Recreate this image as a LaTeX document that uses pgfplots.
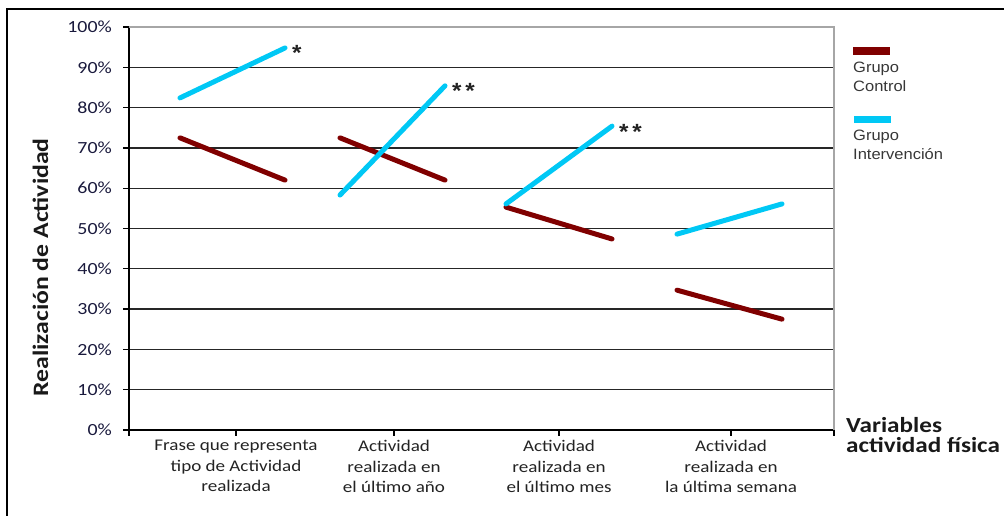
\documentclass[border=0pt]{standalone}
\usepackage{fontspec}
\setmainfont{Carlito}[FakeStretch=1.17]
\newfontfamily\arialf{Liberation Sans}[FakeStretch=1.1]
\usepackage{pgfplots}
\pgfplotsset{compat=1.18}
\definecolor{ctrl}{RGB}{128,0,0}
\definecolor{interv}{RGB}{0,200,245}
\definecolor{ticknavy}{RGB}{25,25,60}
\definecolor{labgray}{RGB}{35,35,35}
\definecolor{leggray}{RGB}{55,55,55}
\begin{document}
\begin{tikzpicture}[x=1pt,y=1pt]
\path[use as bounding box] (0,0) rectangle (1004,516);
\draw[black, line width=1.2pt] (7,-5) -- (7,507) -- (1010,507);
\begin{axis}[
  at={(129pt,86pt)}, anchor=south west,
  scale only axis, width=705pt, height=403pt,
  xmin=0, xmax=705, ymin=0, ymax=100,
  axis x line*=bottom, axis y line*=left,
  x axis line style={line width=2.2pt, black},
  y axis line style={line width=1.4pt, black},
  tick align=outside, major tick length=6pt,
  tick style={black, line width=1.3pt},
  xtick={0,107,265,430,602,705},
  xticklabels={{},{Frase que representa\\tipo de Actividad\\realizada},{Actividad\\realizada en\\el último año},{Actividad\\realizada en\\el último mes},{Actividad\\realizada en\\la última semana},{}},
  xticklabel style={align=center, font=\fontsize{16.3}{20.5}\selectfont, text=labgray, inner sep=0pt, yshift=-4pt},
  ytick={0,10,20,30,40,50,60,70,80,90,100},
  yticklabels={0\%,10\%,20\%,30\%,40\%,50\%,60\%,70\%,80\%,90\%,100\%},
  yticklabel style={font=\fontsize{17}{20}\selectfont, text=ticknavy, inner sep=0pt, xshift=-11pt},
  minor ytick={10,20,30,40,50,60,70,80,90}, yminorgrids, minor tick length=0pt,
  minor grid style={black!85, line width=1.3pt},
  clip=false,
]
% Grupo Control
\addplot[ctrl, line width=5pt, line cap=round, forget plot] coordinates {(51,72.5) (156,62.0)};
\addplot[ctrl, line width=5pt, line cap=round, forget plot] coordinates {(211,72.5) (316,62.0)};
\addplot[ctrl, line width=5pt, line cap=round, forget plot] coordinates {(377,55.3) (483,47.4)};
\addplot[ctrl, line width=5pt, line cap=round, forget plot] coordinates {(548,34.7) (653,27.5)};
% Grupo Intervencion
\addplot[interv, line width=5pt, line cap=round, forget plot] coordinates {(51,82.4) (156,94.8)};
\addplot[interv, line width=5pt, line cap=round, forget plot] coordinates {(211,58.3) (316,85.4)};
\addplot[interv, line width=5pt, line cap=round, forget plot] coordinates {(377,56.1) (483,75.4)};
\addplot[interv, line width=5pt, line cap=round, forget plot] coordinates {(548,48.6) (653,56.1)};
% significance marks
\node[anchor=base west, inner sep=0pt, xshift=7pt, yshift=-13pt, text=labgray, font=\arialf\bfseries\fontsize{22}{22}\selectfont] at (axis cs:156,94.8) {*};
\node[anchor=base west, inner sep=0pt, xshift=7pt, yshift=-13pt, text=labgray, font=\arialf\bfseries\fontsize{22}{22}\selectfont] at (axis cs:316,85.4) {*\,*};
\node[anchor=base west, inner sep=0pt, xshift=7pt, yshift=-13pt, text=labgray, font=\arialf\bfseries\fontsize{22}{22}\selectfont] at (axis cs:483,75.4) {*\,*};
% gray top and right border
\draw[black!35, line width=1.3pt] (rel axis cs:0,1) -- (rel axis cs:1,1) -- (rel axis cs:1,0);
\end{axis}
% y label
\node[rotate=90, anchor=base, inner sep=0pt, text=black!90, font=\bfseries\fontsize{22}{22}\selectfont] at (48,248.5) {Realización de Actividad};
% x label
\node[anchor=north west, align=left, inner sep=0pt, text=black!90, font=\bfseries\fontsize{21.5}{20.5}\selectfont] at (846,99) {Variables\\actividad física};
% legend
\fill[ctrl] (853,461) rectangle (890,469);
\node[anchor=base west, inner sep=0pt, text=leggray, font=\arialf\fontsize{15}{15}\selectfont] at (853,443) {Grupo};
\node[anchor=base west, inner sep=0pt, text=leggray, font=\arialf\fontsize{15}{15}\selectfont] at (853,424.5) {Control};
\fill[interv] (854,393) rectangle (891,400);
\node[anchor=base west, inner sep=0pt, text=leggray, font=\arialf\fontsize{15}{15}\selectfont] at (853,375) {Grupo};
\node[anchor=base west, inner sep=0pt, text=leggray, font=\arialf\fontsize{15}{15}\selectfont] at (853,356.5) {Intervención};
\end{tikzpicture}
\end{document}
